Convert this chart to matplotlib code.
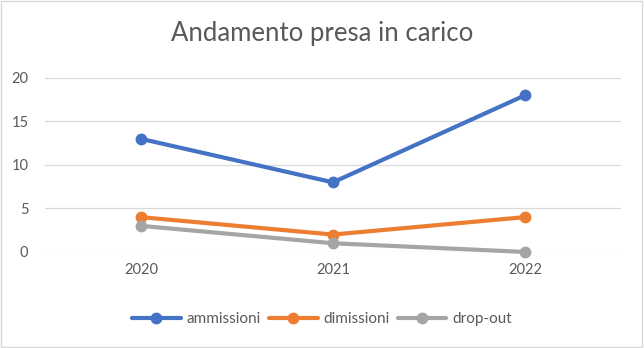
import matplotlib
matplotlib.use("Agg")
import matplotlib.pyplot as plt
from matplotlib.patches import Rectangle

plt.rcParams['font.family'] = ['Lato', 'DejaVu Sans']

years = ["2020", "2021", "2022"]
ammissioni = [13, 8, 18]
dimissioni = [4, 2, 4]
drop_out = [3, 1, 0]
series_names = ["ammissioni", "dimissioni", "drop-out"]
colors = ["#4472C4", "#ED7D31", "#A5A5A5"]

fig = plt.figure(figsize=(6.44, 3.48), dpi=100)
ax = fig.add_axes([0.070, 0.276, 0.894, 0.500])

x = list(range(len(years)))
for vals, name, c in zip([ammissioni, dimissioni, drop_out], series_names, colors):
    ax.plot(x, vals, color=c, linewidth=3.0, marker='o', markersize=7.5,
            label=name, solid_capstyle='round', zorder=3, clip_on=False)

ax.set_xlim(-0.5, 2.5)
ax.set_ylim(0, 20)
ax.set_yticks([0, 5, 10, 15, 20])
ax.set_xticks(x)
ax.set_xticklabels(years)
ax.grid(axis='y', color='#D9D9D9', linewidth=0.9)
ax.set_axisbelow(True)
for s in ax.spines.values():
    s.set_visible(False)
ax.tick_params(length=0, labelsize=10.5, colors='#595959', pad=8)
ax.tick_params(axis='y', pad=12)

fig.text(0.5, 0.905, "Andamento presa in carico", ha='center', va='center',
         fontsize=18.5, color='#595959')

leg = fig.legend(loc='center', bbox_to_anchor=(0.5, 0.083), ncol=3, frameon=False,
                 fontsize=11, handlelength=3.2, columnspacing=0.5, handletextpad=0.4,
                 labelcolor='#595959')

fig.patches.append(Rectangle((0.002, 0.003), 0.995, 0.993, transform=fig.transFigure,
                             fill=False, edgecolor='#D9D9D9', linewidth=1))

fig.savefig("out.png", dpi=100)
